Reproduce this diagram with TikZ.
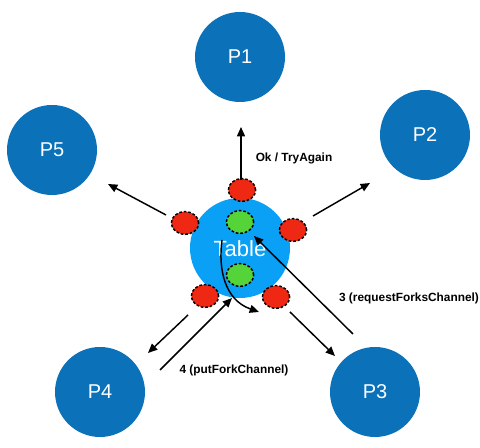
\documentclass[tikz,border=0pt]{standalone}
\usepackage{fontspec}
\setmainfont{Liberation Sans}
\usetikzlibrary{arrows.meta,shapes.geometric}
\definecolor{pblue}{HTML}{0B72BA}
\definecolor{tblue}{HTML}{0AA0F6}
\definecolor{fred}{HTML}{EE2812}
\definecolor{fgreen}{HTML}{55D43A}
\begin{document}
\begin{tikzpicture}[x=0.75pt,y=-0.75pt,
  phil/.style={circle,fill=pblue,minimum size=67.5pt,inner sep=0pt,text=white,font=\fontsize{15}{15}\selectfont},
  tablebox/.style={circle,fill=tblue,minimum size=75pt,inner sep=0pt},
  fork/.style={ellipse,draw=black,dash pattern=on 2pt off 1.4pt,line width=1.1pt,minimum width=20.5pt,minimum height=17pt,inner sep=0pt},
  redfork/.style={fork,fill=fred},
  greenfork/.style={fork,fill=fgreen},
  arr/.style={-{Triangle[length=7pt,width=6pt]},line width=1.1pt},
  lbl/.style={font=\bfseries\fontsize{8.9}{10}\selectfont}]
\useasboundingbox (0,0) rectangle (480,448);
\node[phil] (p1) at (240,57) {P1};
\node[phil] (p2) at (425,135) {P2};
\node[phil] (p5) at (52,150) {P5};
\node[phil] (p4) at (100,392) {P4};
\node[phil] (p3) at (375,392) {P3};
\node[tablebox] (tab) at (240,248) {};
\node[greenfork] (g1) at (240,222) {};
\node[greenfork] (g2) at (240,275) {};
\node[text=white,font=\fontsize{16.5}{16.5}\selectfont] (tabl) at (240,249) {Table};
\node[redfork] (r1) at (242,190) {};
\node[redfork] (r2) at (185,223) {};
\node[redfork] (r3) at (293,230) {};
\node[redfork] (r4) at (205,296) {};
\node[redfork] (r5) at (276,297) {};
\coordinate (a1s) at (241,180); \coordinate (a1e) at (241,127);
\coordinate (a5s) at (166,215); \coordinate (a5e) at (108,184);
\coordinate (a2s) at (313,216); \coordinate (a2e) at (370,183);
\coordinate (a4s) at (188,315); \coordinate (a4e) at (148,353);
\coordinate (b4s) at (160,370); \coordinate (b4e) at (232,298);
\coordinate (a3s) at (290,312); \coordinate (a3e) at (335,356);
\coordinate (b3s) at (353,334); \coordinate (b3e) at (254,236);
\coordinate (cs) at (222,240); \coordinate (ce) at (259,312);
\draw[arr] (a1s) -- (a1e);
\draw[arr] (a5s) -- (a5e);
\draw[arr] (a2s) -- (a2e);
\draw[arr] (a4s) -- (a4e);
\draw[arr] (b4s) -- (b4e);
\draw[arr] (a3s) -- (a3e);
\draw[arr] (b3s) -- (b3e);
\draw[arr] (cs) .. controls (218,270) and (225,300) .. (ce);
\node[lbl] (l1) at (294,158) {Ok / TryAgain};
\node[lbl] (l3) at (409,298) {3 (requestForksChannel)};
\node[lbl] (l4) at (234,370) {4 (putForkChannel)};
\end{tikzpicture}
\end{document}
